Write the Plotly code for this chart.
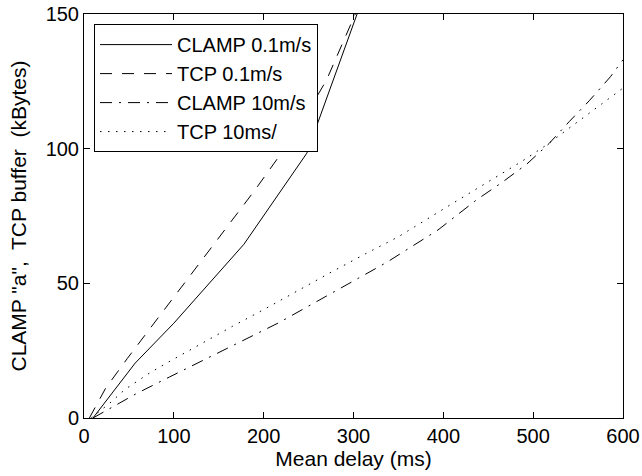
import plotly.graph_objects as go

# Data
clamp01_x = [10, 57, 100, 138, 178, 248, 270, 304]
clamp01_y = [0, 20.4, 35.2, 49.4, 64.5, 98.3, 118.5, 150]

tcp01_x = [6, 24, 48, 82, 116, 151, 190, 234, 270, 302]
tcp01_y = [0, 11, 22, 37, 52, 67, 84.5, 105, 125.5, 150]

clamp10_x = [10, 58, 95, 126, 157, 187, 217, 247, 276, 306, 337, 365, 394,
             437, 465, 493, 518, 540, 563, 586, 600]
clamp10_y = [0, 9, 15.2, 20.4, 25.3, 30.5, 35.4, 41, 46.3, 52, 57.8, 63.6, 69.8,
             81, 87.4, 94.3, 102, 110, 118, 126.7, 133]

tcp10_x = [8, 29, 46, 73, 92, 128, 165, 202, 239, 276, 313, 350, 407,
           487, 515, 537, 556, 573, 591, 600]
tcp10_y = [0, 5.6, 10.7, 16.7, 20.4, 27.2, 34, 40.6, 47.5, 54.3, 60.9, 67.3, 79,
           95.2, 101.4, 106.8, 111.5, 115.8, 120.2, 122.5]

series_names = ["CLAMP 0.1m/s", "TCP 0.1m/s", "CLAMP 10m/s", "TCP 10ms/"]

x_ticks = [0, 100, 200, 300, 400, 500, 600]
y_ticks = [0, 50, 100, 150]

FONT = "Liberation Sans, Arial, sans-serif"

fig = go.Figure()
styles = ["solid", "12px,10px", "12px,7px,2px,7px", "1.5px,6.5px"]
data = [(clamp01_x, clamp01_y), (tcp01_x, tcp01_y), (clamp10_x, clamp10_y), (tcp10_x, tcp10_y)]
for (xs, ys), name, dash in zip(data, series_names, styles):
    fig.add_trace(go.Scatter(x=xs, y=ys, mode="lines", name=name,
                             line=dict(color="black", width=1, dash=dash)))

axis_common = dict(showline=True, linecolor="black", linewidth=1, mirror="ticks",
                   ticks="inside", ticklen=6, tickcolor="black", showgrid=False,
                   zeroline=False, automargin=False, ticklabeloverflow="allow",
                   tickfont=dict(family=FONT, size=20, color="black"))

fig.update_layout(
    width=642, height=476,
    margin=dict(l=84, r=19, t=14, b=58, autoexpand=False),
    paper_bgcolor="white", plot_bgcolor="white",
    font=dict(family=FONT, size=20, color="black"),
    xaxis=dict(range=[0, 600], tickvals=x_ticks, ticktext=[str(v) for v in x_ticks],
               title=dict(text="Mean delay (ms)", font=dict(family=FONT, size=21), standoff=2),
               **axis_common),
    yaxis=dict(range=[0, 150], tickvals=y_ticks, ticktext=[str(v) for v in y_ticks],
               title=dict(text='CLAMP "a",\u00a0 TCP buffer\u00a0 (kBytes)',
                          font=dict(family=FONT, size=21), standoff=13),
               **axis_common),
    legend=dict(x=0.0186, y=0.975, xanchor="left", yanchor="top",
                bgcolor="white", bordercolor="black", borderwidth=1,
                font=dict(family=FONT, size=20, color="black"),
                itemwidth=72, tracegroupgap=0),
    showlegend=True,
)

# remove the default page margin so the figure fills the window exactly
fig.write_html("out.html", config={"displayModeBar": False},
               post_script="document.body.style.margin='0';")
